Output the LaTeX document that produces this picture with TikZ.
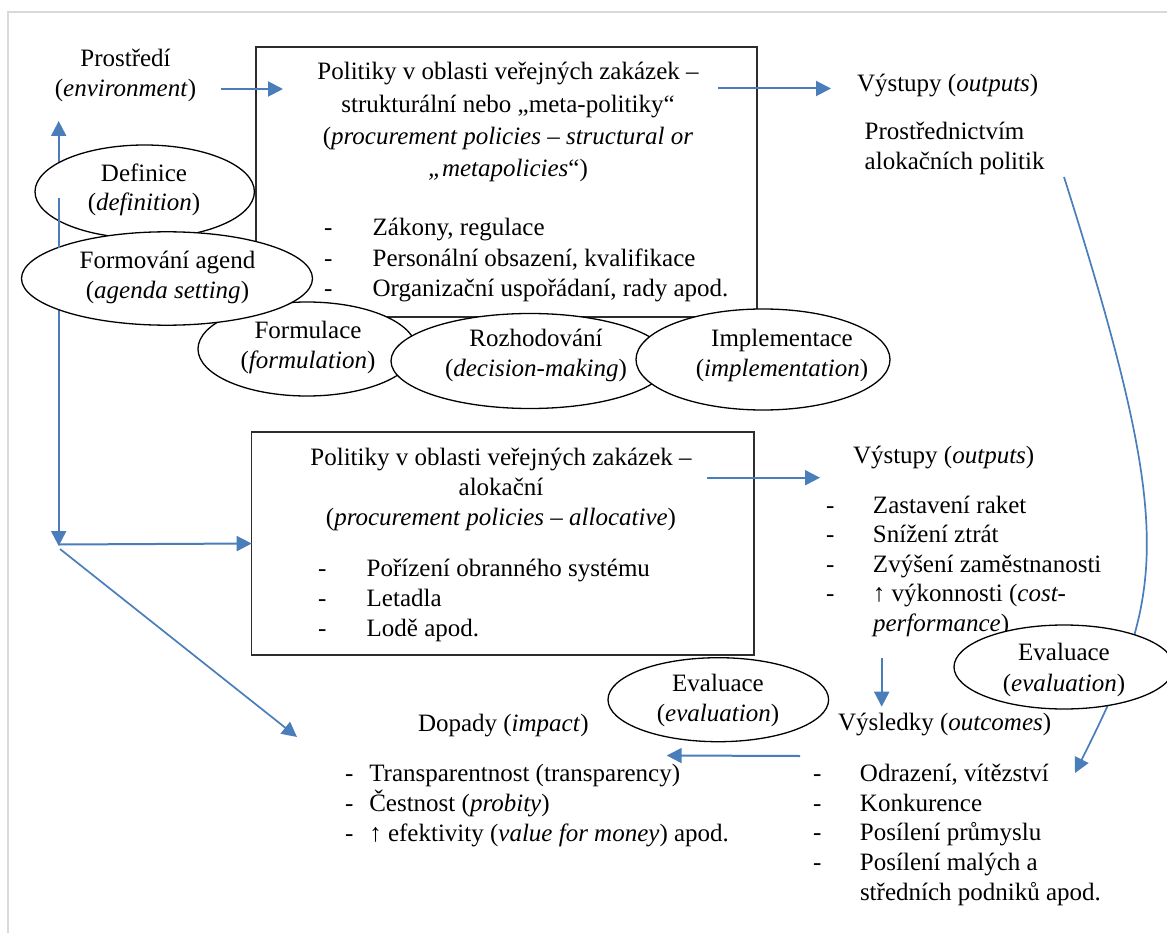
\documentclass[tikz,border=0pt]{standalone}
\usepackage{fontspec}
\setmainfont{Liberation Serif}
\usetikzlibrary{arrows.meta,shapes.geometric}
\definecolor{arrowblue}{RGB}{74,126,187}
\definecolor{framegray}{RGB}{217,217,217}
\definecolor{boxline}{RGB}{45,45,45}
\newcommand{\fstrut}{\rule{0pt}{26pt}}
\newcommand{\dsh}[1]{\makebox[#1][l]{-}}
\begin{document}
\begin{tikzpicture}[x=1pt,y=-1pt,
  txt/.style={inner sep=0pt, outer sep=0pt, font={\fontsize{25}{30}\selectfont}, text=black},
  ctxt/.style={txt, anchor=north, align=center},
  ltxt/.style={txt, anchor=north west, align=left},
  pbox/.style={rectangle, draw=boxline, line width=1.4pt, inner sep=0pt, outer sep=0pt},
  oval/.style={ellipse, draw=black, line width=1.3pt, fill=white, inner sep=0pt, outer sep=0pt},
  conn/.style={draw=arrowblue, line width=2pt, -{Triangle[length=15pt,width=15pt]}},
  thinconn/.style={draw=arrowblue, line width=1.7pt, -{Triangle[length=15pt,width=15pt]}},
]
\useasboundingbox (0,0) rectangle (1167,933);
\fill[white] (0,0) rectangle (1167,933);
\draw[framegray, line width=1.2pt] (8,933) -- (8,12) -- (1167,12);

% boxes
\node[pbox, minimum width=501pt, minimum height=270pt] (topbox) at (506.5,182) {};
\node[pbox, minimum width=502.3pt, minimum height=223pt] (lowbox) at (502.85,543.5) {};

% texts
\node[ctxt] (env) at (125.5,40.7) {\fstrut Prostředí\\ (\textit{environment})};
\node[ctxt, font={\fontsize{25}{32.2}\selectfont}] (tophead) at (508,54)
  {\fstrut Politiky v oblasti veřejných zakázek –\\ strukturální nebo „meta-politiky“\\ (\textit{procurement policies – structural or}\\ \textit{„metapolicies}“)};
\node[ltxt, font={\fontsize{25}{30.3}\selectfont}] (toplist) at (324,210)
  {\fstrut\dsh{48.7pt}Zákony, regulace\\ \dsh{48.7pt}Personální obsazení, kvalifikace\\ \dsh{48.7pt}Organizační uspořádaní, rady apod.};
\node[ltxt] (out1) at (857,65.7) {\fstrut Výstupy (\textit{outputs})};
\node[ltxt, font={\fontsize{25}{29.3}\selectfont}] (via) at (864.7,114) {\fstrut Prostřednictvím\\ alokačních politik};

\node[ctxt] (lowhead) at (501,439)
  {\fstrut Politiky v oblasti veřejných zakázek –\\ alokační\\ (\textit{procurement policies – allocative})};
\node[ltxt] (lowlist) at (318,550.7)
  {\fstrut\dsh{48.7pt}Pořízení obranného systému\\ \dsh{48.7pt}Letadla\\ \dsh{48.7pt}Lodě apod.};
\node[ltxt] (out2) at (853,437) {\fstrut Výstupy (\textit{outputs})};
\node[ltxt, font={\fontsize{25}{29.5}\selectfont}] (outlist) at (826,487.3)
  {\fstrut\dsh{47pt}Zastavení raket\\ \dsh{47pt}Snížení ztrát\\ \dsh{47pt}Zvýšení zaměstnanosti\\ \dsh{47pt}↑ výkonnosti (\textit{cost-}\\ \makebox[47pt]{}\textit{performance})};
\node[ltxt] (outc) at (838,704) {\fstrut Výsledky (\textit{outcomes})};
\node[ltxt, font={\fontsize{25}{29.6}\selectfont}] (outclist) at (813,755.7)
  {\fstrut\dsh{47pt}Odrazení, vítězství\\ \dsh{47pt}Konkurence\\ \dsh{47pt}Posílení průmyslu\\ \dsh{47pt}Posílení malých a\\ \makebox[47pt]{}středních podniků apod.};
\node[ltxt] (impact) at (418,705.7) {\fstrut Dopady (\textit{impact})};
\node[ltxt] (implist) at (345,755.7)
  {\fstrut\dsh{24.3pt}Transparentnost (transparency)\\ \dsh{24.3pt}Čestnost (\textit{probity})\\ \dsh{24.3pt}↑ efektivity (\textit{value for money}) apod.};

% connector end points
\coordinate (envA) at (221,89);
\coordinate (envB) at (283,89);
\coordinate (o1A) at (718,88.5);
\coordinate (o1B) at (831,88.5);
\coordinate (o2A) at (707,477.7);
\coordinate (o2B) at (820,477.7);
\coordinate (dnA) at (881.7,658);
\coordinate (dnB) at (881.7,706.7);
\coordinate (lfA) at (800,756);
\coordinate (lfB) at (666.7,755.5);
\coordinate (hub) at (58.7,546);
\coordinate (up) at (58.7,121);
\coordinate (hubR) at (59,544.5);
\coordinate (hubD) at (60,549);
\coordinate (diagB) at (297,737);
\coordinate (crvA) at (1064,177);
\coordinate (crvB) at (1075,773);

\draw[conn] (envA) -- (envB);
\draw[conn] (o1A) -- (o1B);
\draw[conn] (o2A) -- (o2B);
\draw[conn] (dnA) -- (dnB);
\draw[conn] (lfA) -- (lfB);
\draw[draw=arrowblue, line width=2pt, {Triangle[length=15pt,width=15pt]}-{Triangle[length=15pt,width=15pt]}] (up) -- (hub);
\draw[conn] (hubR) -- (lowbox.west);
\draw[thinconn] (hubD) -- (diagB);
\draw[thinconn] (crvA) .. controls (1178,537) and (1165,593) .. (crvB);

% ovals
\node[oval, minimum width=218pt, minimum height=94pt] (formul) at (307,349) {};
\node[ctxt] (formulT) at (308,312.3) {\fstrut Formulace\\ (\textit{formulation})};
\node[oval, minimum width=278pt, minimum height=95pt] (rozh) at (530,361) {};
\node[ctxt] (rozhT) at (536,320.7) {\fstrut Rozhodování\\ (\textit{decision-making})};
\node[oval, minimum width=254pt, minimum height=101pt] (impl) at (763,359.5) {};
\node[ctxt] (implT) at (782,320.7) {\fstrut Implementace\\ (\textit{implementation})};
\node[oval, minimum width=219.4pt, minimum height=93.4pt] (defin) at (144.7,191.7) {};
\node[ctxt, font={\fontsize{25}{29.3}\selectfont}] (definT) at (144,155.7) {\fstrut Definice\\ (\textit{definition})};
\node[oval, minimum width=291pt, minimum height=93.4pt] (agenda) at (167,278.5) {};
\node[ctxt] (agendaT) at (167.5,242.3) {\fstrut Formování agend\\ (\textit{agenda setting})};
\node[oval, minimum width=220.6pt, minimum height=84pt] (evalL) at (718.3,699.7) {};
\node[ctxt] (evalLT) at (718,665.7) {\fstrut Evaluace\\ (\textit{evaluation})};
\node[oval, minimum width=220pt, minimum height=84pt] (evalR) at (1064,667) {};
\node[ctxt, font={\fontsize{25}{31.7}\selectfont}] (evalRT) at (1064,634) {\fstrut Evaluace\\ (\textit{evaluation})};

% part of the vertical connector that shows through the lower half of Definice
\begin{scope}
\clip (50,199) rectangle (70,248);
\draw[draw=arrowblue, line width=2pt] (up) -- (hub);
\end{scope}
\end{tikzpicture}
\end{document}
